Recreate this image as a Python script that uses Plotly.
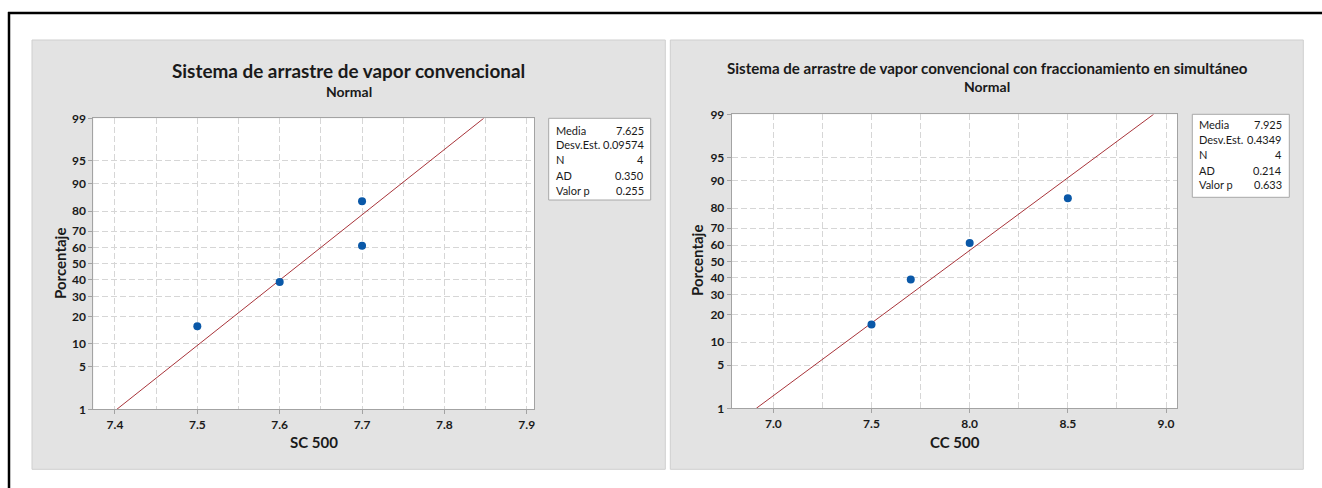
from statistics import NormalDist
import plotly.graph_objects as go

W, H = 1322, 488
FONT = "Lato"

# ---- data -------------------------------------------------------------
sc500 = [7.5, 7.6, 7.7, 7.7]
cc500 = [7.5, 7.7, 8.0, 8.5]
pct_sc = [15.9, 38.6, 61.4, 84.1]
pct_cc = [15.9, 38.6, 61.4, 84.1]
pct_ticks = [1, 5, 10, 20, 30, 40, 50, 60, 70, 80, 90, 95, 99]
fit_pct = [1, 99]

mean_sc, sd_sc = 7.625, 0.09574
mean_cc, sd_cc = 7.925, 0.4349

stats_labels = ["Media", "Desv.Est.", "N", "AD", "Valor p"]
stats_sc = ["7.625", "0.09574", "4", "0.350", "0.255"]
stats_cc = ["7.925", "0.4349", "4", "0.214", "0.633"]

title_sc = "Sistema de arrastre de vapor convencional"
title_cc = "Sistema de arrastre de vapor convencional con fraccionamiento en simultáneo"
subtitle = "Normal"
ytitle = "Porcentaje"
xtitle_sc = "SC 500"
xtitle_cc = "CC 500"

# ---- helpers ------------------------------------------------------------
nd = NormalDist()


def z(p):
    """Normal probability scale: percentage -> standard normal quantile."""
    return nd.inv_cdf(p / 100.0)


def fx(px):
    return px / W


def fy(py):
    return 1 - py / H


POINT = "#0a58a8"
FIT = "#a8343a"
GRID = "#d6d6d6"
AXIS = "#a3a3a3"
TXT = "#1a1a1a"

fig = go.Figure()

for xs, pcts, mean, sd, ax in [
    (sc500, pct_sc, mean_sc, sd_sc, ""),
    (cc500, pct_cc, mean_cc, sd_cc, "2"),
]:
    # fitted normal line: x = media + desv * z
    fig.add_trace(go.Scatter(
        x=[mean + sd * z(p) for p in fit_pct], y=[z(p) for p in fit_pct],
        mode="lines", line=dict(color=FIT, width=1),
        xaxis="x" + ax, yaxis="y" + ax, showlegend=False, hoverinfo="skip"))
    fig.add_trace(go.Scatter(
        x=xs, y=[z(p) for p in pcts], mode="markers",
        marker=dict(color=POINT, size=8),
        xaxis="x" + ax, yaxis="y" + ax, showlegend=False))

axis_common = dict(
    showline=True, linecolor=AXIS, linewidth=1, mirror=True,
    ticks="outside", ticklen=4, tickcolor=AXIS,
    showgrid=True, gridcolor=GRID, griddash="6px,3px", gridwidth=1,
    zeroline=False, tickfont=dict(family=FONT, size=12, color=TXT, weight="bold"),
)

ytick = dict(tickmode="array", tickvals=[z(p) for p in pct_ticks],
             ticktext=[str(p) for p in pct_ticks], range=[z(1), z(99)])

fig.update_layout(
    width=W, height=H, margin=dict(l=0, r=0, t=0, b=0, autoexpand=False),
    paper_bgcolor="white", plot_bgcolor="white",
    xaxis=dict(**axis_common, domain=[fx(93.3), fx(534)], range=[7.3737, 7.9088],
               tick0=7.4, dtick=0.1, tickformat=".1f", anchor="y",
               minor=dict(tick0=7.45, dtick=0.1, showgrid=True, gridcolor=GRID,
                          griddash="6px,3px", ticks="")),
    yaxis=dict(**axis_common, **ytick, domain=[fy(409.3), fy(118.3)], anchor="x"),
    xaxis2=dict(**axis_common, domain=[fx(731.7), fx(1177.3)], range=[6.788, 9.0575],
                tick0=7.0, dtick=0.5, tickformat=".1f", anchor="y2",
                minor=dict(tick0=7.25, dtick=0.5, showgrid=True, gridcolor=GRID,
                           griddash="6px,3px", ticks="")),
    yaxis2=dict(**axis_common, **ytick, domain=[fy(408.3), fy(114.3)], anchor="x2"),
)

shapes = []
# grey panels and white plot areas
for x0, x1 in [(32, 665.3), (670.3, 1303.3)]:
    shapes.append(dict(type="rect", xref="paper", yref="paper", layer="below",
                       x0=fx(x0), x1=fx(x1), y0=fy(469.3), y1=fy(40),
                       fillcolor="#e3e3e3", line=dict(color="#cfcfcf", width=1)))
for x0, x1, y0, y1 in [(93.3, 534, 409.3, 118.3), (731.7, 1177.3, 408.3, 114.3)]:
    shapes.append(dict(type="rect", xref="paper", yref="paper", layer="below",
                       x0=fx(x0), x1=fx(x1), y0=fy(y0), y1=fy(y1),
                       fillcolor="white", line=dict(width=0)))
# stats boxes
for x0, x1, y0, y1 in [(548.7, 650.7, 200, 118.3), (1192.3, 1289.3, 197.3, 114.3)]:
    shapes.append(dict(type="rect", xref="paper", yref="paper",
                       x0=fx(x0), x1=fx(x1), y0=fy(y0), y1=fy(y1),
                       fillcolor="white", line=dict(color="#a8a8a8", width=1)))
# outer frame (top and left edges)
shapes.append(dict(type="line", xref="paper", yref="paper",
                   x0=fx(8), x1=1, y0=fy(13), y1=fy(13),
                   line=dict(color="black", width=2.5)))
shapes.append(dict(type="line", xref="paper", yref="paper",
                   x0=fx(9), x1=fx(9), y0=fy(12), y1=0,
                   line=dict(color="black", width=2.5)))
fig.update_layout(shapes=shapes)

ann = []


def text(s, x, y, size, bold=False, xanchor="center", angle=0):
    ann.append(dict(text=s, x=fx(x), y=fy(y), xref="paper", yref="paper",
                    xanchor=xanchor, yanchor="middle", showarrow=False,
                    textangle=angle,
                    font=dict(family=FONT, size=size, color=TXT,
                              weight="bold" if bold else "normal")))


text(title_sc, 348.5, 70, 18.9, bold=True)
text(subtitle, 348.5, 91, 14, bold=True)
text(title_cc, 987, 68, 15.1, bold=True)
text(subtitle, 987, 86, 14, bold=True)
text(ytitle, 60, 264, 15, bold=True, angle=-90)
text(ytitle, 697, 261, 15, bold=True, angle=-90)
text(xtitle_sc, 313.6, 442, 15, bold=True)
text(xtitle_cc, 955, 442, 15, bold=True)

for labels, vals, xl, xr, ys in [
    (stats_labels, stats_sc, 553.5, 646, [130, 144.5, 160, 175.5, 190]),
    (stats_labels, stats_cc, 1197, 1284, [124.5, 139.5, 154.5, 170, 185]),
]:
    for lab, val, yy in zip(labels, vals, ys):
        text(lab, xl, yy, 11, xanchor="left")
        text(val, xr, yy, 11, xanchor="right")

fig.update_layout(annotations=ann)
fig.write_html("out.html")
